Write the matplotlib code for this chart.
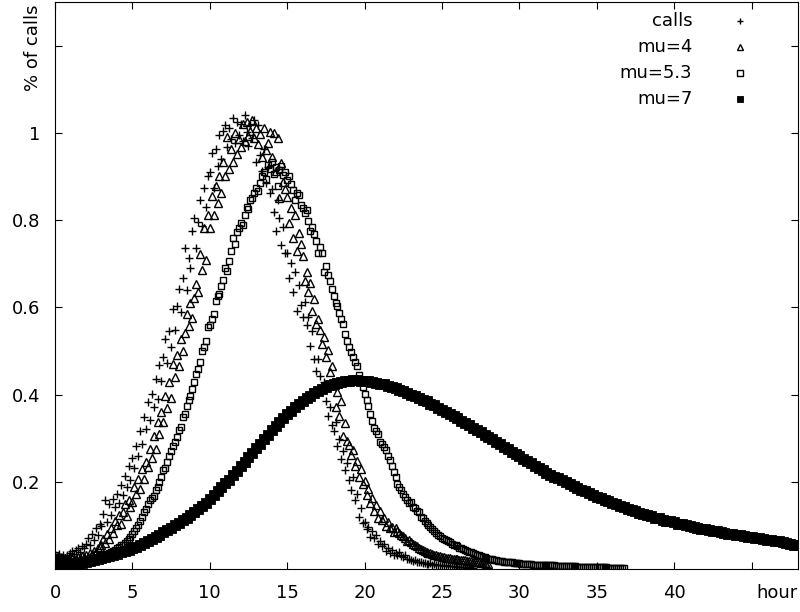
import numpy as np
import matplotlib
matplotlib.use('Agg')
import matplotlib.pyplot as plt

plt.rcParams['font.family'] = ['DejaVu Sans']

# sampling step (hours) of the series
step_obs = 0.125
step_mu7 = 0.25

# % of calls, observed, every 7.5 min from hour 0
calls = [
    0.032, 0.028, 0.035, 0.027, 0.031, 0.026, 0.033, 0.029,
    0.036, 0.041, 0.034, 0.044, 0.047, 0.040, 0.052, 0.049,
    0.058, 0.072, 0.055, 0.081, 0.066, 0.094, 0.078, 0.104,
    0.098, 0.127, 0.157, 0.108, 0.149, 0.124, 0.160, 0.141,
    0.172, 0.151, 0.193, 0.170, 0.214, 0.188, 0.237, 0.205,
    0.254, 0.231, 0.281, 0.260, 0.316, 0.287, 0.348, 0.322,
    0.383, 0.342, 0.402, 0.371, 0.436, 0.390, 0.468, 0.431,
    0.485, 0.528, 0.472, 0.546, 0.510, 0.595, 0.548, 0.603,
    0.641, 0.590, 0.668, 0.736, 0.640, 0.712, 0.689, 0.774,
    0.805, 0.736, 0.795, 0.846, 0.786, 0.873, 0.831, 0.900,
    0.911, 0.953, 0.874, 0.962, 0.924, 0.996, 0.941, 1.005,
    1.018, 0.968, 1.010, 0.985, 1.034, 0.976, 1.025, 0.994,
    1.021, 0.982, 1.040, 1.002, 0.970, 1.018, 0.989, 1.030,
    0.934, 1.018, 0.948, 0.912, 0.962, 0.884, 0.921, 0.862,
    0.871, 0.818, 0.774, 0.845, 0.805, 0.742, 0.783, 0.725,
    0.725, 0.668, 0.701, 0.634, 0.681, 0.591, 0.652, 0.605,
    0.577, 0.612, 0.559, 0.578, 0.511, 0.545, 0.481, 0.454,
    0.481, 0.443, 0.405, 0.428, 0.386, 0.351, 0.371, 0.330,
    0.317, 0.338, 0.283, 0.298, 0.253, 0.270, 0.226, 0.242,
    0.203, 0.180, 0.212, 0.157, 0.171, 0.120, 0.139, 0.105,
    0.108, 0.091, 0.097, 0.074, 0.086, 0.070, 0.078, 0.058,
    0.064, 0.052, 0.058, 0.041, 0.049, 0.036, 0.044, 0.031,
    0.036, 0.033, 0.038, 0.029, 0.027, 0.031, 0.024, 0.022,
    0.020, 0.018, 0.021, 0.016, 0.015, 0.017, 0.013, 0.014,
    0.012, 0.011, 0.013, 0.010, 0.011, 0.009, 0.010, 0.009,
    0.008, 0.007, 0.009, 0.007, 0.006, 0.007, 0.006, 0.005,
    0.005, 0.004, 0.005, 0.004, 0.004, 0.003, 0.004, 0.003,
    0.003,
]

mu4 = [
    0.026, 0.022, 0.028, 0.024, 0.021, 0.025, 0.023, 0.020,
    0.022, 0.026, 0.021, 0.024, 0.027, 0.025, 0.029, 0.027,
    0.031, 0.028, 0.036, 0.034, 0.041, 0.038, 0.047, 0.050,
    0.054, 0.068, 0.059, 0.081, 0.069, 0.094, 0.082, 0.109,
    0.100, 0.124, 0.104, 0.131, 0.148, 0.121, 0.158, 0.143,
    0.154, 0.188, 0.171, 0.207, 0.184, 0.230, 0.207, 0.245,
    0.234, 0.275, 0.255, 0.305, 0.275, 0.337, 0.310, 0.360,
    0.337, 0.397, 0.370, 0.428, 0.391, 0.470, 0.440, 0.490,
    0.465, 0.527, 0.500, 0.541, 0.584, 0.556, 0.610, 0.576,
    0.621, 0.653, 0.634, 0.721, 0.685, 0.782, 0.708, 0.812,
    0.782, 0.854, 0.812, 0.877, 0.840, 0.900, 0.862, 0.934,
    0.900, 0.990, 0.917, 0.962, 0.934, 1.000, 0.951, 0.985,
    0.968, 1.020, 0.981, 1.025, 0.992, 1.004, 1.030, 0.988,
    1.010, 0.975, 0.998, 0.945, 1.012, 0.960, 0.976, 1.002,
    0.945, 1.000, 0.912, 0.988, 0.851, 0.930, 0.887, 0.872,
    0.852, 0.794, 0.828, 0.759, 0.811, 0.730, 0.771, 0.745,
    0.717, 0.660, 0.680, 0.634, 0.656, 0.591, 0.618, 0.561,
    0.574, 0.549, 0.515, 0.531, 0.485, 0.503, 0.451, 0.466,
    0.428, 0.371, 0.405, 0.351, 0.385, 0.306, 0.334, 0.294,
    0.285, 0.262, 0.272, 0.236, 0.248, 0.212, 0.230, 0.195,
    0.201, 0.169, 0.184, 0.152, 0.162, 0.134, 0.147, 0.118,
    0.132, 0.112, 0.116, 0.099, 0.108, 0.093, 0.097, 0.084,
    0.093, 0.088, 0.083, 0.079, 0.076, 0.071, 0.063, 0.066,
    0.061, 0.057, 0.054, 0.052, 0.047, 0.046, 0.043, 0.041,
    0.040, 0.037, 0.036, 0.034, 0.032, 0.031, 0.029, 0.030,
    0.028, 0.027, 0.026, 0.025, 0.025, 0.024, 0.023, 0.022,
    0.022, 0.021, 0.021, 0.020, 0.020, 0.019, 0.018, 0.018,
    0.017, 0.016, 0.015, 0.015, 0.014, 0.013, 0.013, 0.012,
    0.012,
]

mu53 = [
    0.031, 0.028, 0.026, 0.024, 0.021, 0.019, 0.018, 0.016,
    0.015, 0.014, 0.016, 0.015, 0.014, 0.016, 0.015, 0.016,
    0.017, 0.018, 0.017, 0.019, 0.020, 0.022, 0.024, 0.025,
    0.028, 0.029, 0.031, 0.034, 0.036, 0.039, 0.041, 0.044,
    0.047, 0.050, 0.055, 0.054, 0.060, 0.064, 0.068, 0.074,
    0.080, 0.086, 0.093, 0.101, 0.110, 0.120, 0.131, 0.138,
    0.148, 0.157, 0.162, 0.168, 0.180, 0.189, 0.200, 0.210,
    0.226, 0.232, 0.245, 0.260, 0.270, 0.283, 0.290, 0.302,
    0.318, 0.325, 0.348, 0.355, 0.374, 0.388, 0.397, 0.412,
    0.428, 0.446, 0.458, 0.474, 0.500, 0.510, 0.523, 0.554,
    0.560, 0.573, 0.584, 0.614, 0.625, 0.631, 0.648, 0.662,
    0.691, 0.684, 0.705, 0.728, 0.759, 0.745, 0.772, 0.781,
    0.794, 0.788, 0.812, 0.831, 0.826, 0.845, 0.851, 0.862,
    0.873, 0.866, 0.884, 0.902, 0.911, 0.895, 0.927, 0.918,
    0.934, 0.906, 0.922, 0.877, 0.915, 0.924, 0.903, 0.910,
    0.892, 0.901, 0.883, 0.868, 0.846, 0.861, 0.858, 0.835,
    0.828, 0.816, 0.822, 0.797, 0.774, 0.785, 0.768, 0.752,
    0.725, 0.738, 0.724, 0.680, 0.694, 0.675, 0.660, 0.641,
    0.626, 0.610, 0.603, 0.588, 0.572, 0.561, 0.538, 0.522,
    0.508, 0.497, 0.486, 0.475, 0.466, 0.444, 0.431, 0.418,
    0.401, 0.387, 0.374, 0.356, 0.340, 0.323, 0.317, 0.309,
    0.291, 0.287, 0.279, 0.272, 0.258, 0.249, 0.236, 0.223,
    0.212, 0.195, 0.188, 0.181, 0.173, 0.164, 0.157, 0.151,
    0.153, 0.143, 0.140, 0.134, 0.130, 0.120, 0.117, 0.111,
    0.106, 0.100, 0.097, 0.092, 0.087, 0.082, 0.077, 0.075,
    0.072, 0.069, 0.066, 0.063, 0.061, 0.058, 0.055, 0.054,
    0.052, 0.049, 0.047, 0.045, 0.043, 0.041, 0.039, 0.038,
    0.036, 0.034, 0.033, 0.032, 0.030, 0.028, 0.027, 0.026,
    0.024, 0.023, 0.022, 0.021, 0.020, 0.019, 0.018, 0.018,
    0.017, 0.016, 0.016, 0.015, 0.015, 0.014, 0.014, 0.013,
    0.013, 0.012, 0.012, 0.012, 0.011, 0.011, 0.011, 0.010,
    0.010, 0.010, 0.010, 0.009, 0.009, 0.009, 0.009, 0.008,
    0.008, 0.008, 0.008, 0.007, 0.007, 0.007, 0.007, 0.007,
    0.006, 0.006, 0.006, 0.006, 0.006, 0.006, 0.005, 0.005,
    0.005, 0.005, 0.005, 0.005, 0.005, 0.004, 0.004, 0.004,
    0.004, 0.004, 0.004, 0.004, 0.004, 0.004, 0.003, 0.003,
    0.003, 0.003, 0.003, 0.003, 0.003, 0.003, 0.003,
]

# every 15 min, 0 .. 48 h
mu7 = [
    0.008, 0.008, 0.009, 0.009, 0.010, 0.011, 0.012, 0.014,
    0.016, 0.018, 0.020, 0.022, 0.025, 0.027, 0.030, 0.032,
    0.035, 0.038, 0.041, 0.044, 0.047, 0.051, 0.055, 0.059,
    0.064, 0.069, 0.074, 0.079, 0.084, 0.089, 0.095, 0.100,
    0.106, 0.112, 0.118, 0.124, 0.130, 0.137, 0.144, 0.152,
    0.160, 0.169, 0.178, 0.187, 0.196, 0.205, 0.215, 0.225,
    0.235, 0.245, 0.256, 0.266, 0.277, 0.287, 0.297, 0.308,
    0.318, 0.327, 0.337, 0.346, 0.355, 0.363, 0.371, 0.378,
    0.385, 0.391, 0.397, 0.403, 0.408, 0.413, 0.417, 0.421,
    0.424, 0.427, 0.429, 0.431, 0.432, 0.433, 0.433, 0.432,
    0.431, 0.430, 0.429, 0.427, 0.425, 0.423, 0.420, 0.417,
    0.414, 0.411, 0.408, 0.404, 0.400, 0.396, 0.392, 0.388,
    0.384, 0.379, 0.375, 0.370, 0.365, 0.360, 0.355, 0.350,
    0.345, 0.340, 0.335, 0.329, 0.324, 0.319, 0.313, 0.308,
    0.302, 0.297, 0.291, 0.286, 0.280, 0.275, 0.269, 0.264,
    0.258, 0.253, 0.247, 0.242, 0.237, 0.231, 0.226, 0.221,
    0.216, 0.212, 0.208, 0.203, 0.199, 0.195, 0.190, 0.186,
    0.182, 0.178, 0.174, 0.170, 0.166, 0.162, 0.158, 0.155,
    0.151, 0.148, 0.144, 0.141, 0.138, 0.135, 0.132, 0.129,
    0.126, 0.123, 0.121, 0.118, 0.116, 0.113, 0.111, 0.109,
    0.107, 0.104, 0.102, 0.100, 0.098, 0.096, 0.094, 0.092,
    0.091, 0.089, 0.087, 0.086, 0.084, 0.083, 0.081, 0.080,
    0.078, 0.077, 0.075, 0.074, 0.073, 0.071, 0.070, 0.069,
    0.067, 0.066, 0.064, 0.063, 0.061, 0.060, 0.058, 0.056,
    0.054,
]

x_ticks = [0, 5, 10, 15, 20, 25, 30, 35, 40, 45]
x_labels = ['0', '5', '10', '15', '20', '25', '30', '35', '40', '']
y_ticks = [0.2, 0.4, 0.6, 0.8, 1.0, 1.2]
y_labels = ['0.2', '0.4', '0.6', '0.8', '1', '']

series = [
    ('calls', calls, step_obs, dict(marker='+', ms=6, mew=1.0, mfc='none')),
    ('mu=4', mu4, step_obs, dict(marker='^', ms=5.2, mew=1.0, mfc='none')),
    ('mu=5.3', mu53, step_obs, dict(marker='s', ms=4.5, mew=1.0, mfc='none')),
    ('mu=7', mu7, step_mu7, dict(marker='s', ms=6.8, mew=0.6, mfc='k')),
]

fs = 13

fig = plt.figure(figsize=(8, 6.12), dpi=100)
ax = fig.add_axes([0.06875, 0.0703, 0.92875, 0.9265])

for name, vals, step, style in series:
    hours = np.arange(len(vals)) * step
    ax.plot(hours, vals, ls='none', color='k', mec='k', **style)

ax.set_xlim(0, 48)
ax.set_ylim(0, 1.3)
ax.set_xticks(x_ticks)
ax.set_xticklabels(x_labels)
ax.set_yticks(y_ticks)
ax.set_yticklabels(y_labels)
ax.tick_params(direction='in', top=True, right=True, length=5, width=0.8,
               labelsize=fs, colors='k')
ax.tick_params(axis='x', pad=11)
ax.tick_params(axis='y', pad=10.5)
for sp in ax.spines.values():
    sp.set_linewidth(0.8)

ax.annotate('% of calls', xy=(0, 1.195), xycoords=('axes fraction', 'data'),
            xytext=(-9, 0), textcoords='offset points', rotation=90,
            ha='right', va='center', fontsize=fs)
ax.annotate('hour', xy=(1, 0), xycoords='axes fraction', xytext=(0, -11),
            textcoords='offset points', ha='right', va='top', fontsize=fs)

# gnuplot-style key: label right aligned, sample on the right
key_y = [0.967, 0.921, 0.874, 0.828]
for (name, vals, step, style), ky in zip(series, key_y):
    ax.text(0.858, ky, name, transform=ax.transAxes, ha='right', va='center',
            fontsize=fs)
    key_style = dict(style)
    key_style['ms'] = min(style['ms'], 4.5)
    ax.plot([0.922], [ky], ls='none', color='k', mec='k',
            transform=ax.transAxes, clip_on=False, **key_style)

fig.savefig('out.png', dpi=100)
